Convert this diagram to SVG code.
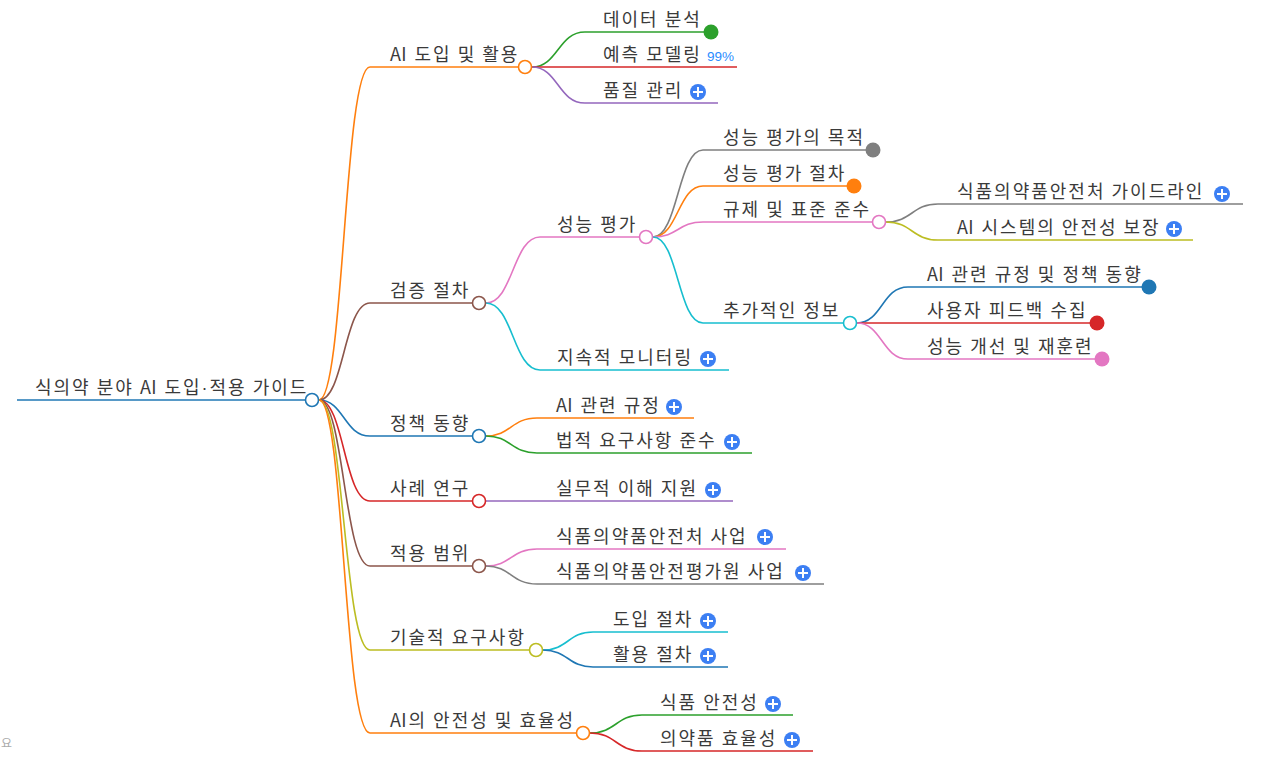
<svg xmlns="http://www.w3.org/2000/svg" width="1261" height="759" viewBox="0 0 1261 759">
<style>
text{font-family:"Noto Sans CJK KR","Noto Sans",sans-serif;font-size:18px;letter-spacing:2px;fill:#3a3a3a}
.dot{font-family:"Liberation Sans",sans-serif}
.ai{letter-spacing:0.3px}
.ln{fill:none;stroke-width:1.6}
.oc{fill:#fff;stroke-width:1.6}
.pl circle{fill:#3c7ff3}
.pl path{stroke:#fff;stroke-width:2;fill:none}
.pct{font-family:"Liberation Sans","Noto Sans",sans-serif;font-size:13.5px;letter-spacing:0;fill:#2b8cff}
.ft{font-size:12px;letter-spacing:0;fill:#aaa}
</style>
<defs>
<g id="plus" class="pl"><circle r="8"/><path d="M-5,0H5M0,-5V5"/></g>
</defs>
<g id="connectors">
<path class="ln" stroke="#ff7f0e" d="M319,400C344,400 344,67 370,67H518"/>
<path class="ln" stroke="#8c564b" d="M319,400C344,400 344,303 370,303H472"/>
<path class="ln" stroke="#1f77b4" d="M319,400C344,400 344,436 370,436H472"/>
<path class="ln" stroke="#d62728" d="M319,400C344,400 344,501 370,501H472"/>
<path class="ln" stroke="#8c564b" d="M319,400C344,400 344,566 370,566H472"/>
<path class="ln" stroke="#bcbd22" d="M319,400C344,400 344,650 370,650H529"/>
<path class="ln" stroke="#ff7f0e" d="M319,400C344,400 344,733 370,733H576"/>
<path class="ln" stroke="#2ca02c" d="M532,67C558,67 558,32 585,32H711"/>
<path class="ln" stroke="#d62728" d="M532,67H737"/>
<path class="ln" stroke="#9467bd" d="M532,67C558,67 558,103 585,103H718"/>
<path class="ln" stroke="#e377c2" d="M486,303C513,303 513,237 540,237H639"/>
<path class="ln" stroke="#17becf" d="M486,303C513,303 513,370 540,370H729"/>
<path class="ln" stroke="#7f7f7f" d="M653,237C678,237 678,150 703,150H873"/>
<path class="ln" stroke="#ff7f0e" d="M653,237C678,237 678,186 703,186H854"/>
<path class="ln" stroke="#e377c2" d="M653,237C678,237 678,222 703,222H872"/>
<path class="ln" stroke="#17becf" d="M653,237C678,237 678,323 703,323H843"/>
<path class="ln" stroke="#7f7f7f" d="M886,222C912,222 912,204 938,204H1243"/>
<path class="ln" stroke="#bcbd22" d="M886,222C912,222 912,240 938,240H1193"/>
<path class="ln" stroke="#1f77b4" d="M857,323C882,323 882,287 908,287H1149"/>
<path class="ln" stroke="#d62728" d="M857,323H1097"/>
<path class="ln" stroke="#e377c2" d="M857,323C882,323 882,359 908,359H1102"/>
<path class="ln" stroke="#ff7f0e" d="M486,436C511,436 511,418 537,418H694"/>
<path class="ln" stroke="#2ca02c" d="M486,436C511,436 511,453 537,453H752"/>
<path class="ln" stroke="#9467bd" d="M486,501H733"/>
<path class="ln" stroke="#e377c2" d="M486,566C511,566 511,549 537,549H786"/>
<path class="ln" stroke="#7f7f7f" d="M486,566C511,566 511,584 537,584H824"/>
<path class="ln" stroke="#17becf" d="M543,650C568,650 568,632 593,632H728"/>
<path class="ln" stroke="#1f77b4" d="M543,650C568,650 568,667 593,667H728"/>
<path class="ln" stroke="#2ca02c" d="M590,733C616,733 616,715 642,715H793"/>
<path class="ln" stroke="#d62728" d="M590,733C616,733 616,751 642,751H813"/>
</g>
<g id="root">
<path class="ln" stroke="#1f77b4" d="M17,400H305"/>
<text x="35" y="394">식의약 분야 <tspan class="ai">A</tspan>I 도입<tspan class="dot">·</tspan>적용 가이드</text>
<circle class="oc" stroke="#1f77b4" cx="312" cy="400" r="6.5"/>
</g>
<g id="n-ai-use"><text x="390" y="61"><tspan class="ai">A</tspan>I 도입 및 활용</text><circle class="oc" stroke="#ff7f0e" cx="525" cy="67" r="6.5"/></g>
<g id="n-verify"><text x="390" y="297">검증 절차</text><circle class="oc" stroke="#8c564b" cx="479" cy="303" r="6.5"/></g>
<g id="n-policy"><text x="390" y="430">정책 동향</text><circle class="oc" stroke="#1f77b4" cx="479" cy="436" r="6.5"/></g>
<g id="n-case"><text x="390" y="495">사례 연구</text><circle class="oc" stroke="#d62728" cx="479" cy="501" r="6.5"/></g>
<g id="n-scope"><text x="390" y="560">적용 범위</text><circle class="oc" stroke="#8c564b" cx="479" cy="566" r="6.5"/></g>
<g id="n-tech"><text x="390" y="644">기술적 요구사항</text><circle class="oc" stroke="#bcbd22" cx="536" cy="650" r="6.5"/></g>
<g id="n-safety"><text x="390" y="727"><tspan class="ai">A</tspan>I의 안전성 및 효율성</text><circle class="oc" stroke="#ff7f0e" cx="583" cy="733" r="6.5"/></g>
<g id="n-data"><text x="603" y="26">데이터 분석</text><circle fill="#2ca02c" cx="711" cy="32" r="7.5"/></g>
<g id="n-predict"><text x="603" y="61">예측 모델링</text><text class="pct" x="707" y="61">99%</text></g>
<g id="n-quality"><text x="603" y="97">품질 관리</text><use href="#plus" x="698" y="92"/></g>
<g id="n-perf"><text x="557" y="231">성능 평가</text><circle class="oc" stroke="#e377c2" cx="646" cy="237" r="6.5"/></g>
<g id="n-monitor"><text x="557" y="364">지속적 모니터링</text><use href="#plus" x="708" y="359"/></g>
<g id="n-purpose"><text x="723" y="144">성능 평가의 목적</text><circle fill="#7f7f7f" cx="873" cy="150" r="7.5"/></g>
<g id="n-proc"><text x="723" y="180">성능 평가 절차</text><circle fill="#ff7f0e" cx="854" cy="186" r="7.5"/></g>
<g id="n-reg"><text x="723" y="216">규제 및 표준 준수</text><circle class="oc" stroke="#e377c2" cx="879" cy="222" r="6.5"/></g>
<g id="n-extra"><text x="723" y="317">추가적인 정보</text><circle class="oc" stroke="#17becf" cx="850" cy="323" r="6.5"/></g>
<g id="n-mfds-guide"><text x="957" y="198">식품의약품안전처 가이드라인</text><use href="#plus" x="1222" y="194"/></g>
<g id="n-ai-safe"><text x="957" y="234"><tspan class="ai">A</tspan>I 시스템의 안전성 보장</text><use href="#plus" x="1174" y="229"/></g>
<g id="n-ai-reg-trend"><text x="927" y="281"><tspan class="ai">A</tspan>I 관련 규정 및 정책 동향</text><circle fill="#1f77b4" cx="1149" cy="287" r="7.5"/></g>
<g id="n-feedback"><text x="927" y="317">사용자 피드백 수집</text><circle fill="#d62728" cx="1097" cy="323" r="7.5"/></g>
<g id="n-retrain"><text x="927" y="353">성능 개선 및 재훈련</text><circle fill="#e377c2" cx="1102" cy="359" r="7.5"/></g>
<g id="n-ai-reg"><text x="556" y="412"><tspan class="ai">A</tspan>I 관련 규정</text><use href="#plus" x="674" y="407"/></g>
<g id="n-legal"><text x="556" y="447">법적 요구사항 준수</text><use href="#plus" x="732" y="442"/></g>
<g id="n-practice"><text x="556" y="495">실무적 이해 지원</text><use href="#plus" x="713" y="490"/></g>
<g id="n-mfds-biz"><text x="556" y="543">식품의약품안전처 사업</text><use href="#plus" x="765" y="537"/></g>
<g id="n-nifds-biz"><text x="556" y="578">식품의약품안전평가원 사업</text><use href="#plus" x="803" y="573"/></g>
<g id="n-intro"><text x="613" y="626">도입 절차</text><use href="#plus" x="708" y="621"/></g>
<g id="n-apply"><text x="613" y="661">활용 절차</text><use href="#plus" x="708" y="656"/></g>
<g id="n-food"><text x="660" y="709">식품 안전성</text><use href="#plus" x="773" y="704"/></g>
<g id="n-drug"><text x="660" y="745">의약품 효율성</text><use href="#plus" x="792" y="740"/></g>
<text class="ft" x="1" y="748">요</text>
</svg>
